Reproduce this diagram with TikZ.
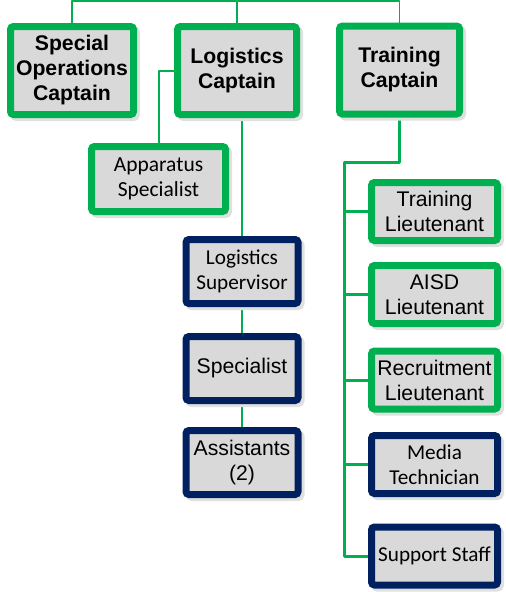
\documentclass[tikz,border=0pt]{standalone}
\usepackage{fontspec}
\setmainfont{Liberation Sans}
\newfontfamily\calibri{Carlito}
\usetikzlibrary{shadows,backgrounds}
\definecolor{grn}{HTML}{00B050}
\definecolor{nvy}{HTML}{002060}
\definecolor{boxgray}{HTML}{D9D9D9}

\begin{document}
\begin{tikzpicture}[x=1pt,y=-1pt]
            \tikzstyle{box}=[rectangle,fill=boxgray,line width=7pt,rounded corners=3pt,inner sep=0pt,align=center,
              drop shadow={shadow xshift=3pt,shadow yshift=-3pt,fill=black!12,draw=black!12,opacity=1}]
            \tikzstyle{capbox}=[box,draw=grn,minimum height=88pt,font=\fontsize{21.2}{25}\selectfont\bfseries]
            \tikzstyle{link}=[draw=grn,line width=1.5pt,line join=round]

            \useasboundingbox (0,0) rectangle (506,592);

            \node[capbox,minimum width=123pt] (C-soc) at (72,70.5) {Special\\Operations\\Captain};
            \node[capbox,minimum width=119pt] (C-lc) at (237,70.5) {Logistics\\Captain};
            \node[capbox,minimum width=120pt] (C-tc) at (399.5,70) {Training\\Captain};

            \node[box,draw=grn,minimum width=134pt,minimum height=65pt,font=\calibri\fontsize{21.5}{25}\selectfont] (A-app) at (158.5,179) {Apparatus\\Specialist};

            \foreach \name/\y/\fnt/\txt in {ls/271.5/\calibri/{Logistics\\Supervisor}, sp/368.5/\rmfamily/{Specialist}, as/462.5/\rmfamily/{Assistants\\(2)}}
              \node[box,draw=nvy,minimum width=112pt,minimum height=64pt,font={\fnt\fontsize{21.2}{25}\selectfont}] (L-\name) at (242,\y) {\txt};

            \foreach \name/\y/\col/\fnt/\txt in {tl/211.5/grn/\rmfamily/{Training\\Lieutenant}, al/294.5/grn/\rmfamily/{AISD\\Lieutenant}, rl/380/grn/\rmfamily/{Recruitment\\Lieutenant}, mt/464.5/nvy/\calibri/{Media\\Technician}, ss/556/nvy/\calibri/{Support Staff}}
              \node[box,draw=\col,minimum width=126pt,minimum height=58pt,font={\fnt\fontsize{21.2}{25}\selectfont}] (T-\name) at (434.5,\y) {\txt};

            \begin{pgfonlayer}{background}
              \coordinate (top) at (236,1);
              \coordinate (bend) at (344,162);
              \draw[link,line width=1.2pt] (C-soc.north) |- (top) -| (C-tc.north);
              \draw[link,line width=1.2pt] (C-lc.north) -- (C-lc.north |- top);
              \draw[link,line width=2pt] (C-lc.west) -| (A-app.north);
              \draw[link] (C-lc.south -| L-ls.north) -- (L-ls.north);
              \draw[link] (L-ls) -- (L-sp);
              \draw[link] (L-sp) -- (L-as);
              \draw[link,line width=3pt] (C-tc.south) |- (bend) -- (bend |- T-ss.west) -- (T-ss.west);
              \foreach \name in {tl,al,rl,mt}
                \draw[link,line width=3pt] (bend |- T-\name.west) -- (T-\name.west);
            \end{pgfonlayer}
        \end{tikzpicture}
\end{document}
